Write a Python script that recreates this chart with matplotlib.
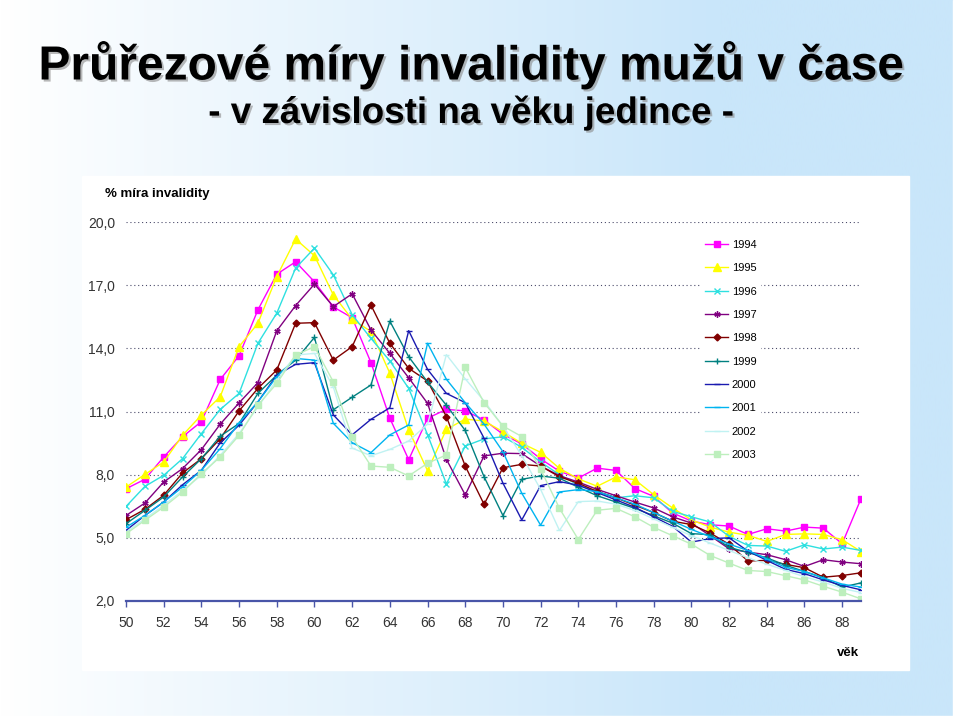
import matplotlib
matplotlib.use('Agg')
import matplotlib.pyplot as plt
import matplotlib.patheffects as pe
from matplotlib import font_manager
from matplotlib.patches import Rectangle
import numpy as np

# ages on the x axis
ages = list(range(50, 90))
years = ['1994', '1995', '1996', '1997', '1998', '1999', '2000', '2001', '2002', '2003']

# % invalidity rate per age, one list per year (ages 50..89)
r1994 = [7.33, 7.78, 8.84, 9.80, 10.52, 12.52, 13.65, 15.83, 17.52, 18.11,
         17.16, 15.97, 15.45, 13.32, 10.68, 8.71, 10.68, 11.10, 11.03, 10.60,
         9.92, 9.46, 8.75, 8.16, 7.84, 8.31, 8.20, 7.34, 6.97, 6.18,
         5.80, 5.62, 5.56, 5.16, 5.43, 5.32, 5.51, 5.46, 4.72, 6.86]
r1995 = [7.41, 8.01, 8.60, 9.87, 10.83, 11.70, 14.08, 15.19, 17.41, 19.19,
         18.40, 16.54, 15.38, 14.80, 12.82, 10.12, 8.19, 10.15, 10.64, 10.55,
         10.04, 9.49, 9.06, 8.30, 7.80, 7.45, 7.89, 7.76, 7.05, 6.42,
         5.85, 5.51, 5.27, 5.12, 4.83, 5.16, 5.19, 5.16, 4.91, 4.35]
r1996 = [6.49, 7.44, 7.97, 8.76, 9.95, 11.10, 11.86, 14.24, 15.67, 17.81,
         18.76, 17.49, 15.60, 14.47, 13.40, 12.10, 9.90, 7.56, 9.36, 9.70,
         9.80, 9.30, 8.60, 8.00, 7.50, 7.20, 6.90, 7.00, 6.90, 6.26,
         6.00, 5.75, 5.07, 4.64, 4.61, 4.36, 4.67, 4.47, 4.56, 4.40]
r1997 = [6.06, 6.65, 7.65, 8.29, 9.19, 10.40, 11.41, 12.37, 14.83, 16.03,
         17.05, 15.98, 16.59, 14.87, 13.76, 12.60, 11.39, 8.73, 7.04, 8.89,
         9.02, 9.00, 8.41, 7.95, 7.65, 7.30, 7.00, 6.70, 6.42, 6.00,
         5.70, 5.10, 4.48, 4.32, 4.20, 3.96, 3.64, 3.96, 3.85, 3.77]
r1998 = [5.86, 6.35, 7.02, 8.08, 8.76, 9.71, 11.03, 12.10, 12.97, 15.19,
         15.22, 13.44, 14.08, 16.05, 14.24, 13.05, 12.45, 10.76, 8.41, 6.59,
         8.33, 8.49, 8.41, 7.90, 7.59, 7.20, 6.90, 6.55, 6.20, 5.79,
         5.63, 5.23, 4.69, 3.90, 3.93, 3.74, 3.58, 3.13, 3.21, 3.34]
r1999 = [5.67, 6.30, 6.94, 7.89, 8.76, 9.83, 10.43, 11.86, 12.73, 13.44,
         14.52, 11.08, 11.68, 12.26, 15.29, 13.60, 12.40, 11.30, 10.10, 7.90,
         6.06, 7.78, 7.94, 7.83, 7.40, 7.00, 6.70, 6.40, 6.05, 5.70,
         5.20, 5.15, 4.55, 4.30, 4.05, 3.70, 3.40, 3.10, 2.66, 2.86]
r2000 = [5.35, 6.06, 6.70, 7.52, 8.21, 9.51, 10.35, 11.46, 12.73, 13.24,
         13.32, 10.84, 9.89, 10.63, 11.18, 14.84, 13.00, 11.86, 11.42, 9.73,
         7.60, 5.85, 7.48, 7.67, 7.50, 7.15, 6.80, 6.45, 6.00, 5.55,
         4.80, 4.96, 5.00, 4.37, 3.93, 3.50, 3.30, 3.00, 2.74, 2.53]
r2001 = [5.50, 6.06, 6.70, 7.41, 8.21, 9.24, 10.46, 11.46, 12.65, 13.52,
         13.44, 10.44, 9.52, 9.05, 9.89, 10.36, 14.24, 12.53, 11.42, 10.40,
         9.09, 7.12, 5.60, 7.18, 7.29, 7.20, 6.90, 6.60, 6.20, 5.80,
         5.40, 5.05, 4.70, 4.40, 4.00, 3.60, 3.40, 3.10, 2.80, 2.66]
r2002 = [5.27, 5.90, 6.54, 7.25, 7.97, 8.92, 9.95, 11.22, 12.49, 13.68,
         13.76, 12.17, 9.26, 8.90, 9.20, 9.60, 10.40, 13.70, 12.55, 11.50,
         10.30, 8.90, 7.30, 5.35, 6.72, 6.75, 6.60, 6.30, 5.90, 5.50,
         5.10, 4.75, 4.40, 4.05, 3.75, 3.45, 3.15, 2.90, 2.60, 2.40]
r2003 = [5.19, 5.83, 6.46, 7.17, 8.05, 8.84, 9.87, 11.30, 12.33, 13.68,
         14.08, 12.41, 9.79, 8.41, 8.35, 7.94, 8.54, 8.94, 13.10, 11.42,
         10.31, 9.81, 8.26, 6.40, 4.92, 6.31, 6.40, 6.00, 5.50, 5.10,
         4.70, 4.16, 3.80, 3.45, 3.40, 3.20, 3.00, 2.70, 2.42, 2.10]

series = [r1994, r1995, r1996, r1997, r1998, r1999, r2000, r2001, r2002, r2003]
colors = ['#FF00FF', '#FFFF00', '#2EE0E0', '#800080', '#800000',
          '#008080', '#1A1AB0', '#00B4F0', '#C0F2F2', '#BDEFBD']
markers = ['s', '^', 'x', (6, 2, 0), 'D', '+', '_', '_', '_', 's']
msizes = [5, 5.5, 4, 4.5, 3.5, 4.5, 4, 4, 4, 4]

yticks = [2, 5, 8, 11, 14, 17, 20]
xticks = list(range(50, 89, 2))

names = {f.name for f in font_manager.fontManager.ttflist}
title_font = 'Liberation Sans Narrow' if 'Liberation Sans Narrow' in names else 'Liberation Sans'
plt.rcParams['font.family'] = ['Liberation Sans', 'DejaVu Sans']

fig = plt.figure(figsize=(9.59, 7.2), dpi=100)

# slide background: white -> light blue gradient
bg = fig.add_axes([0, 0, 1, 1], zorder=-10)
t = np.clip(np.linspace(0, 1, 512) / 0.75, 0, 1)
c0 = np.array([1.0, 1.0, 1.0])
c1 = np.array([0xC9, 0xE6, 0xFA]) / 255
grad = c0[None, :] * (1 - t[:, None]) + c1[None, :] * t[:, None]
bg.imshow(grad[None, :, :], aspect='auto', extent=[0, 1, 0, 1])
bg.add_patch(Rectangle((953 / 959, 0), 1, 1, color='white'))
bg.add_patch(Rectangle((0, 0), 1, 4 / 720, color='white'))
# white chart panel
bg.add_patch(Rectangle((82 / 959, 50 / 720), 827 / 959, 494 / 720, color='white'))
bg.set_xlim(0, 1)
bg.set_ylim(0, 1)
bg.axis('off')

# titles with shadow
shadow = [pe.SimplePatchShadow(offset=(1.5, -1.5), shadow_rgbFace='#8a8a8a', alpha=0.6), pe.Normal()]
fig.text(471 / 959, 1 - 65 / 720, 'Průřezové míry invalidity mužů v čase',
         family=[title_font, 'Liberation Sans'], fontweight='bold', fontsize=34.5,
         ha='center', va='center', path_effects=shadow)
fig.text(471 / 959, 1 - 113 / 720, '- v závislosti na věku jedince -',
         family=[title_font, 'Liberation Sans'], fontweight='bold', fontsize=26.5,
         ha='center', va='center', path_effects=shadow)

ax = fig.add_axes([126 / 959, 119 / 720, 735 / 959, 379 / 720])
ax.set_facecolor('none')

for i in range(len(series)):
    ax.plot(ages, series[i], color=colors[i], marker=markers[i], markersize=msizes[i],
            markeredgewidth=1.0, lw=1.0, label=years[i], zorder=3 + i)

ax.set_xlim(50, 89)
ax.set_ylim(2, 20)
ax.set_xticks(xticks)
ax.set_yticks(yticks)
ax.set_yticklabels([f'{v:.1f}'.replace('.', ',') for v in yticks])
ax.yaxis.grid(True, linestyle=(0, (1, 2.5)), color='#4a4a6a', lw=0.8)
ax.set_axisbelow(True)
for s in ['top', 'right', 'left']:
    ax.spines[s].set_visible(False)
ax.spines['bottom'].set_color('#4955A8')
ax.spines['bottom'].set_linewidth(1.6)
ax.spines['bottom'].set_zorder(20)
ax.tick_params(axis='y', length=0, pad=8, labelsize=10, labelcolor='#333333')
ax.tick_params(axis='x', length=4, width=1, color='#4955A8', pad=7,
               labelsize=10, labelcolor='#333333')

fig.text(105 / 959, 1 - 194 / 720, '% míra invalidity', fontweight='bold',
         fontsize=9.5, va='center', ha='left')
fig.text(848 / 959, 1 - 653 / 720, 'věk', fontweight='bold',
         fontsize=9.5, va='center', ha='center')

leg = ax.legend(loc='upper left', bbox_to_anchor=(695 / 959, 1 - 230 / 720),
                bbox_transform=fig.transFigure, fontsize=8, frameon=True,
                facecolor='white', edgecolor='none', framealpha=1,
                handlelength=2.1, handletextpad=0.3, labelspacing=1.2,
                borderpad=0.4, fancybox=False)
leg.set_zorder(30)

fig.savefig('out.png', dpi=100)
plt.close()
